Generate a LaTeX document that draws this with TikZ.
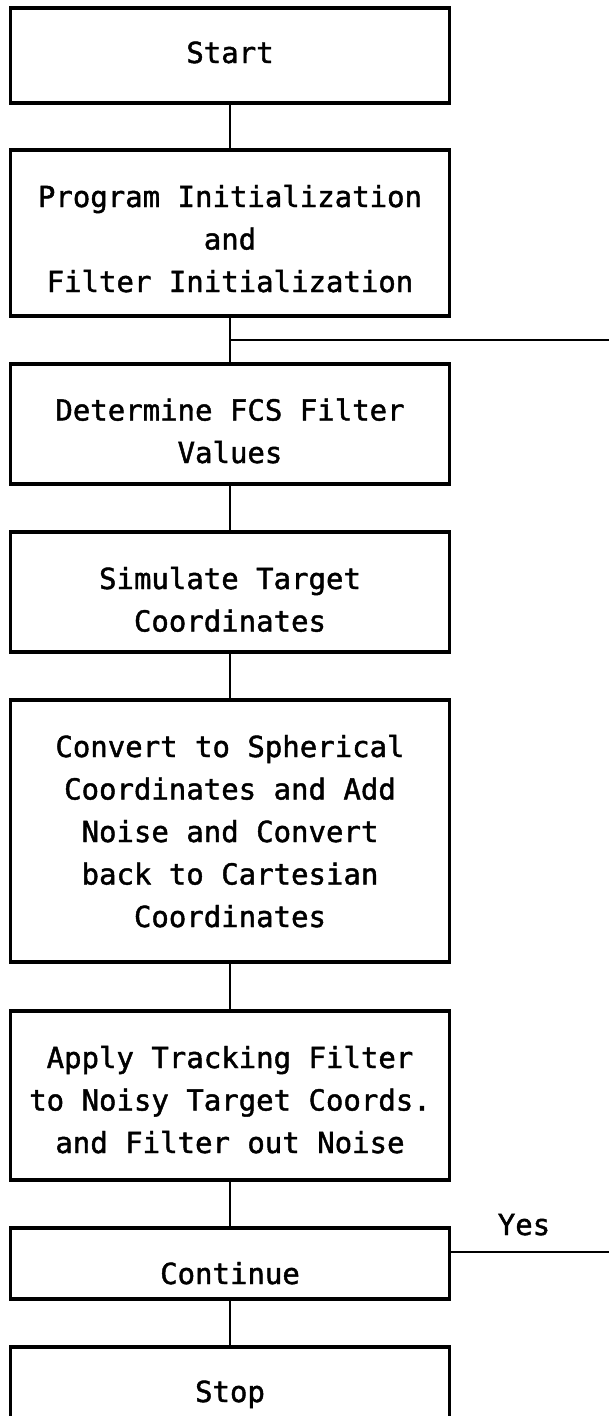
\documentclass[tikz,border=0pt]{standalone}
\usepackage{fontspec}
\newfontfamily\plotfont[FakeBold=1.5]{DejaVu Sans Mono}
\begin{document}
\begin{tikzpicture}[x=1pt,y=-1pt,
  stepbox/.style={draw=black, line width=3.2pt, minimum width=439pt,
    inner sep=0pt, align=center, text depth=0pt,
    font=\plotfont\fontsize{29}{42.5}\selectfont},
  % the last text line sits #1 below the box centre
  lastline/.style={text height=2*#1},
  conn/.style={draw=black, line width=2.8pt},
  lbl/.style={inner sep=0pt, font=\plotfont\fontsize{29}{42.5}\selectfont}]
\useasboundingbox (0,0) rectangle (609,1416);
\clip (0,0) rectangle (609,1416);

% process boxes, top to bottom
\node[stepbox, minimum height=95pt,  lastline=7.5pt]  (start) at (230,55.5)  {Start};
\node[stepbox, minimum height=166pt, lastline=59pt]   (init)  at (230,233)   {Program Initialization\\and\\Filter Initialization};
\node[stepbox, minimum height=120pt, lastline=39pt]   (fcs)   at (230,424)   {Determine FCS Filter\\Values};
\node[stepbox, minimum height=120pt, lastline=39.5pt] (sim)   at (230,592)   {Simulate Target\\Coordinates};
\node[stepbox, minimum height=262pt, lastline=96pt]   (conv)  at (230,831)   {Convert to Spherical\\Coordinates and Add\\Noise and Convert\\back to Cartesian\\Coordinates};
\node[stepbox, minimum height=169pt, lastline=57.5pt] (track) at (230,1095.5){Apply Tracking Filter\\to Noisy Target Coords.\\and Filter out Noise};
\node[stepbox, minimum height=71pt,  lastline=20.5pt] (cont)  at (230,1263.5){Continue};
\node[stepbox, minimum height=95pt,  lastline=7.5pt]  (stop)  at (230,1394.5){Stop};

% vertical flow
\draw[conn] (start) -- (init);
\draw[conn] (init) -- (fcs);
\draw[conn] (fcs) -- (sim);
\draw[conn] (sim) -- (conv);
\draw[conn] (conv) -- (track);
\draw[conn] (track) -- (cont);
\draw[conn] (cont) -- (stop);

% loop-back branches running off to the right
\coordinate (join)   at (230,340);
\coordinate (joinR)  at (612,340);
\draw[conn] (join) -- (joinR);

\coordinate (yesL) at (449.5,1252);
\coordinate (yesR) at (612,1252);
\draw[conn] (yesL) -- (yesR);
\node[lbl, anchor=base] (yes) at (524,1235) {Yes};
\end{tikzpicture}
\end{document}
